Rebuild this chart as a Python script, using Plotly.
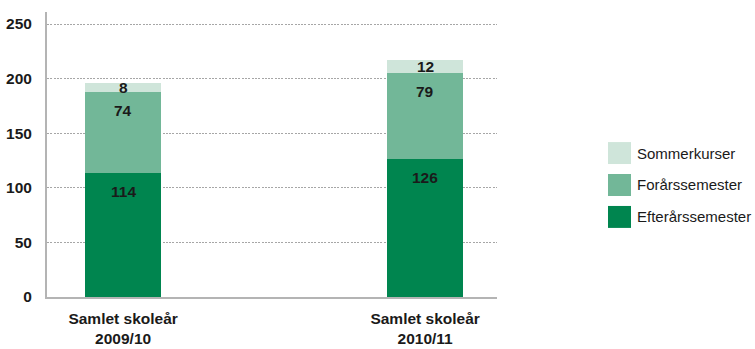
import plotly.graph_objects as go

# Data
categories = ["Samlet skoleår<br>2009/10", "Samlet skoleår<br>2010/11"]
series_names = ["Efterårssemester", "Forårssemester", "Sommerkurser"]
efteraar = [114, 126]
foraar = [74, 79]
sommer = [8, 12]
y_ticks = [0, 50, 100, 150, 200, 250]

colors = ["#00854f", "#72b798", "#cfe5da"]
series_values = [efteraar, foraar, sommer]

W, H = 755, 349
L, R, T, B = 47, 258, 12, 51.5
PW, PH = W - L - R, H - T - B
FONT = "Liberation Sans, Arial, sans-serif"
TXT = "#1a1a1a"

fig = go.Figure()
x_pos = list(range(len(categories)))
for name, vals, col in zip(series_names, series_values, colors):
    fig.add_trace(go.Bar(
        x=x_pos, y=vals, name=name, marker=dict(color=col, line=dict(width=0)),
        width=0.252, showlegend=False, hoverinfo="skip",
    ))

# Value labels in each segment
annotations = []
y_max = 261
px_per_unit = PH / y_max
for i in x_pos:
    base = 0
    for vals in series_values:
        v = vals[i]
        top = base + v
        seg_px = v * px_per_unit
        if seg_px > 30:
            annotations.append(dict(x=i, y=top, xref="x", yref="y", text=f"<b>{v}</b>",
                                    showarrow=False, yanchor="top", yshift=-8,
                                    font=dict(family=FONT, size=15.5, color=TXT)))
        else:
            annotations.append(dict(x=i, y=base + v / 2, xref="x", yref="y", text=f"<b>{v}</b>",
                                    showarrow=False, yanchor="middle",
                                    font=dict(family=FONT, size=15.5, color=TXT)))
        base = top

# Legend drawn as squares with labels, top to bottom: Sommerkurser, Forårssemester, Efterårssemester
def px_x(px):
    return (px - L) / PW

def px_y(py):
    return 1 - (py - T) / PH

shapes = []
row_centers = [153.3, 185.3, 217.3]
for name, col, cy in zip(series_names[::-1], colors[::-1], row_centers):
    shapes.append(dict(type="rect", xref="paper", yref="paper",
                       x0=px_x(608), x1=px_x(631), y0=px_y(cy + 11), y1=px_y(cy - 11),
                       fillcolor=col, line=dict(width=0)))
    annotations.append(dict(x=px_x(635), y=px_y(cy), xref="paper", yref="paper",
                            text=name, showarrow=False, xanchor="left", yanchor="middle",
                            font=dict(family=FONT, size=15, color=TXT)))

fig.update_layout(
    width=W, height=H,
    margin=dict(l=L, r=R, t=T, b=B, pad=0),
    paper_bgcolor="white", plot_bgcolor="white",
    barmode="stack", bargap=0,
    shapes=shapes, annotations=annotations,
    xaxis=dict(
        range=[-0.252, 1.238], tickmode="array", tickvals=x_pos, ticktext=[f"<b>{c}</b>" for c in categories],
        showgrid=False, zeroline=False, showline=True, linecolor="#b4b4b4", linewidth=2,
        ticks="", tickfont=dict(family=FONT, size=15.5, color=TXT), ticklabelstandoff=6,
        automargin=False,
    ),
    yaxis=dict(
        range=[0, y_max], tickmode="array", tickvals=y_ticks, ticktext=[f"<b>{t}</b>" for t in y_ticks],
        showgrid=True, gridcolor="#a6a6a6", griddash="2px,1.3px", gridwidth=1,
        zeroline=False, showline=True, linecolor="#b4b4b4", linewidth=2,
        ticks="", tickfont=dict(family=FONT, size=15.5, color=TXT), ticklabelstandoff=10,
        automargin=False,
    ),
)

fig.write_html("out.html")
